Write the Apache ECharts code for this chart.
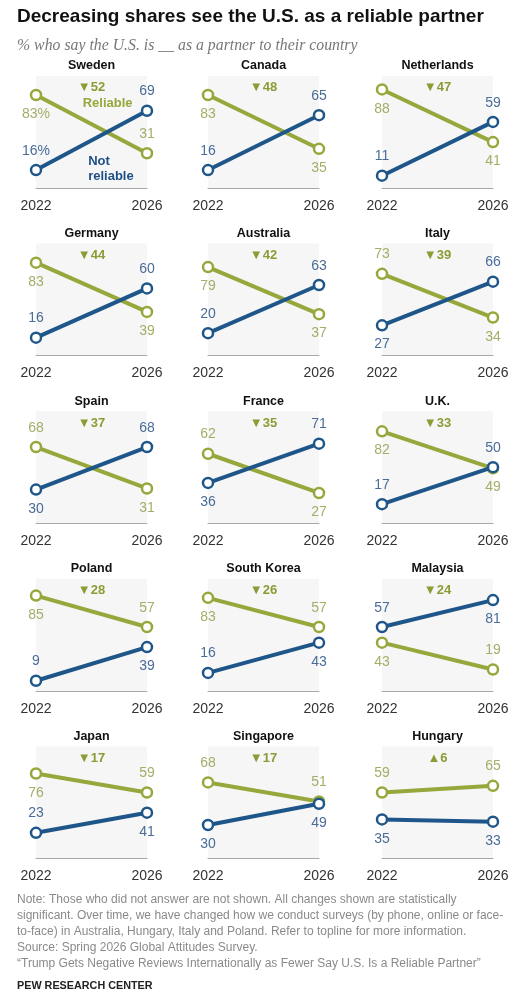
<!DOCTYPE html>
<html>
<head>
<meta charset="utf-8">
<script src="https://cdn.jsdelivr.net/npm/echarts@6/dist/echarts.min.js"></script>
<style>
html,body{margin:0;padding:0;background:#fff;}
#chart{width:526px;height:1006px;}
</style>
</head>
<body>
<div id="chart"></div>
<script>
// ---- Data ----
const years = [2022, 2026];
const countries = ['Sweden','Canada','Netherlands','Germany','Australia','Italy','Spain','France','U.K.','Poland','South Korea','Malaysia','Japan','Singapore','Hungary'];
const reliable2022    = [83,83,88,83,79,73,68,62,82,85,83,43,76,68,59];
const reliable2026    = [31,35,41,39,37,34,31,27,49,57,57,19,59,51,65];
const notReliable2022 = [16,16,11,16,20,27,30,36,17, 9,16,57,23,30,35];
const notReliable2026 = [69,65,59,60,63,66,68,71,50,39,43,81,41,49,33];

const titleText = 'Decreasing shares see the U.S. as a reliable partner';
const subtitleText = '% who say the U.S. is __ as a partner to their country';
const noteLines = [
  'Note: Those who did not answer are not shown. All changes shown are statistically',
  'significant. Over time, we have changed how we conduct surveys (by phone, online or face-',
  'to-face) in Australia, Hungary, Italy and Poland. Refer to topline for more information.',
  'Source: Spring 2026 Global Attitudes Survey.',
  '\u201CTrump Gets Negative Reviews Internationally as Fewer Say U.S. Is a Reliable Partner\u201D'
];
const sourceText = 'PEW RESEARCH CENTER';

// ---- Layout / style (not data) ----
// label side per panel: [reliable2022, reliable2026, notReliable2022, notReliable2026]
const labelSides = [
  ['bottom','top','top','top'],
  ['bottom','bottom','top','top'],
  ['bottom','bottom','top','top'],
  ['bottom','bottom','top','top'],
  ['bottom','bottom','top','top'],
  ['top','bottom','bottom','top'],
  ['top','bottom','bottom','top'],
  ['top','bottom','bottom','top'],
  ['bottom','bottom','top','top'],
  ['bottom','top','top','bottom'],
  ['bottom','top','top','bottom'],
  ['bottom','top','top','bottom'],
  ['bottom','top','top','bottom'],
  ['top','top','bottom','bottom'],
  ['top','top','bottom','bottom']
];
const colLeft = [36, 208, 382];
const plotW = 111;
const rowBottom = [188, 355.6, 523.2, 690.8, 858.6];
const plotH = 112;

const GREEN = '#97a73c', GREEN_LABEL = '#a5ad68', GREEN_ANN = '#8c9b34';
const BLUE = '#1f5689', BLUE_LABEL = '#4a6c98', BLUE_ANN = '#1f4f85';
const FONT = '"Liberation Sans", Arial, sans-serif';

const grids = [], xAxes = [], yAxes = [], series = [], graphics = [];

countries.forEach((name, i) => {
  const col = i % 3, row = Math.floor(i / 3);
  const left = colLeft[col], top = rowBottom[row] - plotH;
  grids.push({left: left, top: top, width: plotW, height: plotH, show: true,
    backgroundColor: '#f6f6f6', borderWidth: 0, outerBoundsMode: 'none'});
  xAxes.push({gridIndex: i, type: 'value', min: years[0], max: years[1],
    axisLine: {show: true, onZero: false, lineStyle: {color: '#a8a8a8', width: 1}},
    axisTick: {show: false}, splitLine: {show: false},
    axisLabel: {customValues: years, formatter: (v) => String(v), color: '#333', fontSize: 14, margin: 11, fontFamily: FONT}});
  yAxes.push({gridIndex: i, type: 'value', min: 0, max: 100, show: false});

  const sides = labelSides[i];
  const change = reliable2026[i] - reliable2022[i];
  const pct = (p) => p.value[1] + (i === 0 && p.dataIndex === 0 ? '%' : '');

  const greenMarks = [{coord: [2024, 89.5], value: change,
    label: {formatter: (change < 0 ? '\u25BC' : '\u25B2') + Math.abs(change)}}];
  if (i === 0) {
    greenMarks.push({coord: [2024.58, 75.5], value: 0,
      label: {formatter: 'Reliable', color: GREEN, fontSize: 13}});
  }
  series.push({
    type: 'line', xAxisIndex: i, yAxisIndex: i, clip: false, z: 2,
    data: [
      {value: [years[0], reliable2022[i]], label: {position: sides[0]}},
      {value: [years[1], reliable2026[i]], label: {position: sides[1]}}
    ],
    symbol: 'circle', symbolSize: 10,
    lineStyle: {color: GREEN, width: 4},
    itemStyle: {color: '#fff', borderColor: GREEN, borderWidth: 2.5},
    label: {show: true, distance: 6, color: GREEN_LABEL, fontSize: 14, fontFamily: FONT, formatter: pct},
    markPoint: {symbol: 'circle', symbolSize: 0, silent: true,
      itemStyle: {color: 'rgba(0,0,0,0)'},
      label: {show: true, position: 'inside', color: GREEN_ANN, fontWeight: 'bold', fontSize: 13, fontFamily: FONT},
      data: greenMarks}
  });

  const blueSeries = {
    type: 'line', xAxisIndex: i, yAxisIndex: i, clip: false, z: 3,
    data: [
      {value: [years[0], notReliable2022[i]], label: {position: sides[2]}},
      {value: [years[1], notReliable2026[i]], label: {position: sides[3]}}
    ],
    symbol: 'circle', symbolSize: 10,
    lineStyle: {color: BLUE, width: 4},
    itemStyle: {color: '#fff', borderColor: BLUE, borderWidth: 2.5},
    label: {show: true, distance: 6, color: BLUE_LABEL, fontSize: 14, fontFamily: FONT, formatter: pct}
  };
  if (i === 0) {
    blueSeries.markPoint = {symbol: 'circle', symbolSize: 0, silent: true,
      itemStyle: {color: 'rgba(0,0,0,0)'},
      label: {show: true, position: 'right', distance: 0, align: 'left', color: BLUE_ANN, fontWeight: 'bold',
        fontSize: 13, lineHeight: 15, fontFamily: FONT, formatter: 'Not\nreliable'},
      data: [{coord: [2023.88, 17.3], value: 0}]};
  }
  series.push(blueSeries);

  graphics.push({type: 'text', x: left + plotW / 2, y: top - 10,
    style: {text: name, align: 'center', verticalAlign: 'middle', fill: '#111',
      font: 'bold 12.5px ' + FONT}});
});

graphics.push({type: 'text', x: 17, y: 17,
  style: {text: titleText, align: 'left', verticalAlign: 'middle', fill: '#111', font: 'bold 19px ' + FONT}});
graphics.push({type: 'text', x: 17, y: 46,
  style: {text: subtitleText, align: 'left', verticalAlign: 'middle', fill: '#777',
    font: 'italic 15.8px "Liberation Serif", Georgia, serif'}});
noteLines.forEach((t, k) => {
  graphics.push({type: 'text', x: 17, y: 899.5 + k * 16,
    style: {text: t, align: 'left', verticalAlign: 'middle', fill: '#8a8a8a', font: '12px ' + FONT}});
});
graphics.push({type: 'text', x: 17, y: 986,
  style: {text: sourceText, align: 'left', verticalAlign: 'middle', fill: '#222', font: 'bold 10.8px ' + FONT}});

const chart = echarts.init(document.getElementById('chart'), null, {renderer: 'canvas'});
chart.setOption({
  animation: false,
  backgroundColor: '#fff',
  grid: grids, xAxis: xAxes, yAxis: yAxes, series: series,
  graphic: graphics
});
</script>
</body>
</html>
